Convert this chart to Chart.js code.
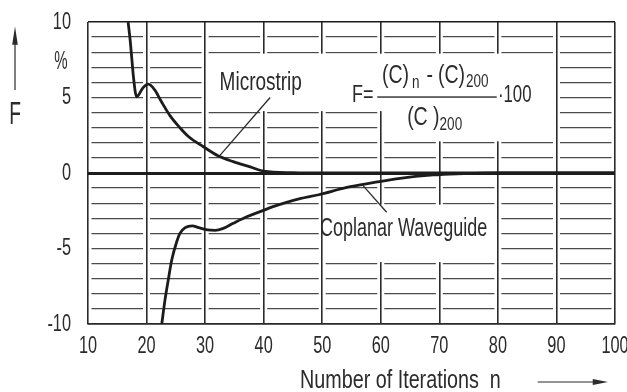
<!DOCTYPE html>
<html>
<head>
<meta charset="utf-8">
<script src="https://cdn.jsdelivr.net/npm/chart.js@4.4.1/dist/chart.umd.min.js"></script>
<style>
html,body{margin:0;padding:0;background:#fff;}
canvas{display:block;}
</style>
</head>
<body>
<canvas id="c" width="627" height="392"></canvas>
<script>
// values (F in %, n = iterations)
const microstripN = [16.85, 17.2, 17.5, 17.75, 18.3, 19.4, 20.3, 21.4, 22.5, 24.0, 25.7, 27.2, 29.7, 32.3, 34.8, 37.7, 40, 45, 50, 60, 70, 80, 90, 100];
const microstripF = [10, 8.8, 7.5, 6.4, 5.05, 5.65, 5.88, 5.5, 4.75, 3.8, 3.0, 2.4, 1.74, 1.12, 0.75, 0.4, 0.12, 0.02, 0, 0, 0, 0, 0, 0];
const cpwN = [22.6, 23.15, 23.7, 24.3, 25.15, 25.7, 26.6, 27.8, 28.9, 30.4, 31.7, 33.1, 34.8, 37.1, 39.4, 41.6, 43.9, 46.2, 49.4, 54.2, 58.7, 63.3, 69.0, 73, 76, 80, 90, 100];
const cpwF = [-10, -8.4, -7.1, -5.76, -4.55, -4.0, -3.62, -3.5, -3.62, -3.77, -3.8, -3.67, -3.33, -2.9, -2.56, -2.23, -1.94, -1.7, -1.44, -0.95, -0.64, -0.35, -0.13, -0.05, -0.02, 0, 0, 0];
const xTicks = [10, 20, 30, 40, 50, 60, 70, 80, 90, 100];
const yLabelled = [-10, -5, 0, 5, 10];

const FONT = "'Liberation Sans', Arial, sans-serif";
const INK = '#2b2b2b';
const cellW = (627 - 88 - 12) / 9;   // width of one x grid cell

function pts(xs, ys){ return xs.map((v, i) => ({x: v, y: ys[i]})); }

// label boxes, grid blanked inside them: [n0, n1, F0, F1]
const blanks = [[30, 90, 4, 8], [60, 90, 2, 4.5], [50, 80, -6, -2]];

// scan uses a tall condensed face, so squeeze the text horizontally
function txt(ctx, s, px, py, size, k, align, base){
  ctx.save();
  ctx.font = size + 'px ' + FONT;
  ctx.textAlign = align || 'center';
  ctx.textBaseline = base || 'middle';
  ctx.translate(px, py);
  ctx.scale(k, 1);
  ctx.fillText(s, 0, 0);
  const w = ctx.measureText(s).width * k;
  ctx.restore();
  return w;
}

const decor = {
  id: 'decor',
  beforeDatasetsDraw(chart){
    const {ctx, scales: {x, y}} = chart;
    const X = v => x.getPixelForValue(v), Y = v => y.getPixelForValue(v);
    ctx.save();
    ctx.fillStyle = '#fff';
    blanks.forEach(b => {
      const x0 = X(b[0]) + 1.5, x1 = X(b[1]) - 1.5, y0 = Y(b[3]) + 1.5, y1 = Y(b[2]) - 1.5;
      ctx.fillRect(x0, y0, x1 - x0, y1 - y0);
    });
    ctx.restore();
  },
  afterDatasetsDraw(chart){
    const {ctx, chartArea: a, scales: {x, y}} = chart;
    const X = v => x.getPixelForValue(v), Y = v => y.getPixelForValue(v);
    ctx.save();
    ctx.fillStyle = INK; ctx.strokeStyle = INK;

    // tick labels
    xTicks.forEach(v => txt(ctx, String(v), X(v), a.bottom + 22, 24, 0.68));
    yLabelled.forEach(v => txt(ctx, String(v), a.left - 17, Y(v), 24, 0.68, 'right'));

    // curve labels + leader lines
    txt(ctx, 'Microstrip', X(39.5), Y(6.0), 26, 0.73);
    txt(ctx, 'Coplanar Waveguide', X(63.9), Y(-3.7), 25, 0.72);
    ctx.lineWidth = 1.3;
    const seg = (a1, b1, a2, b2) => { ctx.beginPath(); ctx.moveTo(X(a1), Y(b1)); ctx.lineTo(X(a2), Y(b2)); ctx.stroke(); };
    seg(41.1, 5.0, 32.5, 1.15);
    seg(56.9, -0.8, 61.0, -2.6);

    // formula
    txt(ctx, 'F=', X(55.1), Y(4.7), 24, 0.75, 'left', 'alphabetic');
    const run = (parts, n0, base) => {
      let px = X(n0);
      parts.forEach(p => {
        px += txt(ctx, p[0], px, Y(base) + p[2], p[1], 0.75, 'left', 'alphabetic') + p[3];
      });
    };
    run([['(C)', 26, 0, 3], ['n', 18, 4.5, 7], ['-', 26, 0, 5], ['(C)', 26, 0, 1], ['200', 18, 4, 0]], 60.2, 5.93);
    ctx.fillRect(X(59.4), Y(5.03) - 0.7, X(79.8) - X(59.4), 1.4);
    run([['(C )', 26, 0, 0], ['200', 18, 5, 0]], 64.5, 3.18);
    txt(ctx, '\u00b7100', X(80.0), Y(4.7), 24, 0.7, 'left', 'alphabetic');

    // y-axis name and unit
    const ax = a.left - 73;
    txt(ctx, 'F', ax, Y(3.8), 32, 0.6);
    txt(ctx, '%', a.left - 27, Y(7.35), 25, 0.6);
    ctx.lineWidth = 1.2;
    ctx.beginPath(); ctx.moveTo(ax, Y(5.5)); ctx.lineTo(ax, Y(8.6)); ctx.stroke();
    ctx.beginPath(); ctx.moveTo(ax, Y(9.7)); ctx.lineTo(ax - 2.8, Y(8.5)); ctx.lineTo(ax + 2.8, Y(8.5)); ctx.closePath(); ctx.fill();

    // x-axis name + arrow
    txt(ctx, 'Number of Iterations  n', X(46.2), a.bottom + 64, 25, 0.79, 'left', 'alphabetic');
    const ay = a.bottom + 58;
    ctx.beginPath(); ctx.moveTo(X(86.8), ay); ctx.lineTo(X(96.6), ay); ctx.stroke();
    ctx.beginPath(); ctx.moveTo(X(98.8), ay); ctx.lineTo(X(96.2), ay - 3); ctx.lineTo(X(96.2), ay + 3); ctx.closePath(); ctx.fill();
    ctx.restore();
  }
};

Chart.defaults.font.family = FONT;
Chart.defaults.color = INK;

new Chart(document.getElementById('c'), {
  type: 'line',
  data: {
    datasets: [
      { label: 'Microstrip', data: pts(microstripN, microstripF), borderColor: '#1c1c1c', borderWidth: 2.8, pointRadius: 0, cubicInterpolationMode: 'monotone' },
      { label: 'Coplanar Waveguide', data: pts(cpwN, cpwF), borderColor: '#1c1c1c', borderWidth: 2.8, pointRadius: 0, cubicInterpolationMode: 'monotone' }
    ]
  },
  options: {
    responsive: false,
    animation: false,
    layout: { padding: { left: 0, right: 12, top: 22, bottom: 0 } },
    plugins: { legend: { display: false }, tooltip: { enabled: false } },
    scales: {
      x: {
        type: 'linear', min: 10, max: 100,
        afterFit: s => { s.height = 68; s.paddingLeft = 0; s.paddingRight = 0; },
        ticks: { display: false, stepSize: 10, maxTicksLimit: 20, autoSkip: false },
        grid: { color: INK, lineWidth: 1.6, drawTicks: false },
        border: { display: true, color: INK, width: 1.6 }
      },
      y: {
        min: -10, max: 10,
        afterFit: s => { s.width = 88; },
        ticks: { display: false, stepSize: 1, maxTicksLimit: 30, autoSkip: false },
        grid: {
          drawTicks: false,
          color: c => (c.tick && (c.tick.value === 0 || Math.abs(c.tick.value) === 10)) ? '#1c1c1c' : '#4a4a4a',
          lineWidth: c => (c.tick && c.tick.value === 0) ? 3 : (c.tick && Math.abs(c.tick.value) === 10 ? 1.6 : 1.3)
        },
        border: {
          display: false,
          dash: c => (c.tick && (c.tick.value === 0 || Math.abs(c.tick.value) === 10)) ? [] : [cellW - 7, 7],
          dashOffset: cellW - 3.5
        }
      }
    }
  },
  plugins: [decor]
});
</script>
</body>
</html>
